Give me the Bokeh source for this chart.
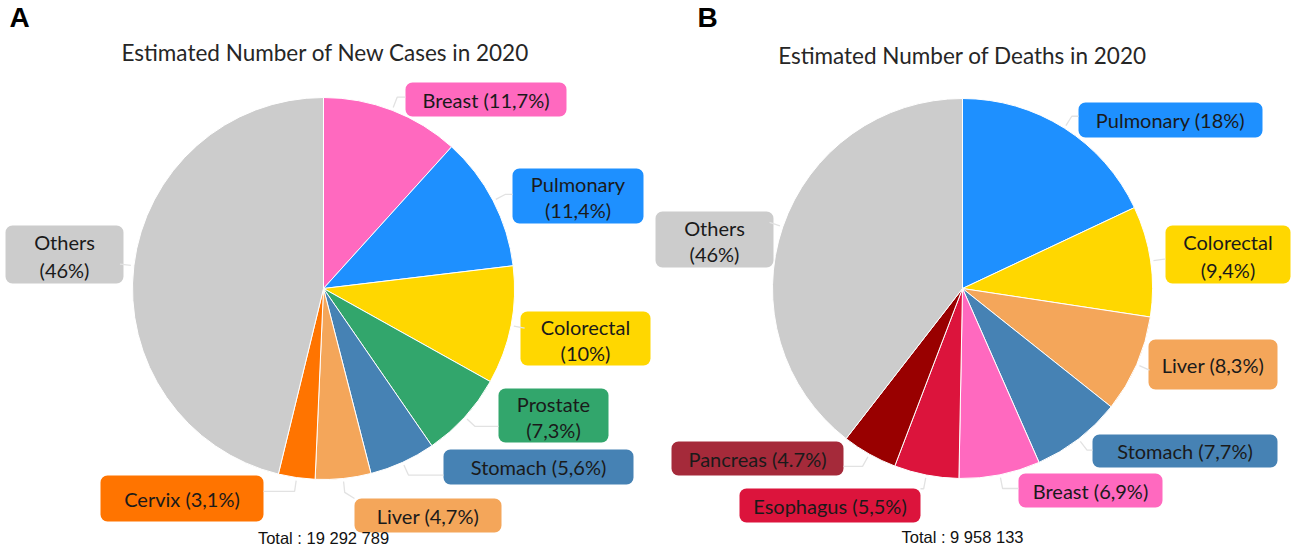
import math
from bokeh.plotting import figure
from bokeh.models import ColumnDataSource, Range1d, BoxAnnotation
from bokeh.core.properties import value
from bokeh.embed import file_html
from bokeh.resources import INLINE

# ---------------- data ----------------
cases_names = ["Breast", "Pulmonary", "Colorectal", "Prostate", "Stomach", "Liver", "Cervix", "Others"]
cases_values = [11.7, 11.4, 10, 7.3, 5.6, 4.7, 3.1, 46]
cases_pct_labels = ["11,7%", "11,4%", "10%", "7,3%", "5,6%", "4,7%", "3,1%", "46%"]
cases_title = "Estimated Number of New Cases in 2020"
cases_total = "Total : 19 292 789"

deaths_names = ["Pulmonary", "Colorectal", "Liver", "Stomach", "Breast", "Esophagus", "Pancreas", "Others"]
deaths_values = [18, 9.4, 8.3, 7.7, 6.9, 5.5, 4.7, 46]
deaths_pct_labels = ["18%", "9,4%", "8,3%", "7,7%", "6,9%", "5,5%", "4.7%", "46%"]
deaths_title = "Estimated Number of Deaths in 2020"
deaths_total = "Total : 9 958 133"

# ---------------- styles ----------------
slice_colors = {
    "Breast": "#ff69bf", "Pulmonary": "#1e90ff", "Colorectal": "#ffd700",
    "Prostate": "#32a66c", "Stomach": "#4682b4", "Liver": "#f4a65a",
    "Cervix": "#ff7400", "Others": "#cccccc", "Esophagus": "#dc143c",
    "Pancreas": "#990000",
}
box_colors = dict(slice_colors)
box_colors["Pancreas"] = "#a52a3a"

H = 554  # image height used to flip y
W_FIG, H_FIG = 1291, 546

LABEL_FONT = "Lato"
LABEL_SIZE = "20px"
TEXT_COLOR = "#1a1a1a"

# label boxes (left, right, top, bottom, two_lines) in picture pixel coords
cases_boxes = [
    (405, 566, 82, 116, False),
    (512, 643, 168, 223, True),
    (520, 650, 311, 365, True),
    (498, 608, 388, 442, True),
    (443, 633, 449, 484, False),
    (354, 501, 498, 532, False),
    (100, 263, 475, 521, False),
    (5, 123, 225, 283, True),
]
deaths_boxes = [
    (1078, 1262, 102, 137, False),
    (1165, 1290, 225, 283, True),
    (1148, 1277, 339, 389, False),
    (1092, 1277, 434, 467, False),
    (1018, 1162, 473, 507, False),
    (739, 920, 488, 522, False),
    (671, 843, 441, 475, False),
    (655, 773, 211, 267, True),
]

p = figure(width=W_FIG, height=H_FIG, output_backend="svg", toolbar_location=None,
           x_range=Range1d(0, W_FIG), y_range=Range1d(H - H_FIG, H),
           min_border=0, outline_line_color=None)
p.axis.visible = False
p.grid.visible = False
p.background_fill_color = "white"
p.border_fill_color = "white"


def fy(y):
    return H - y


def draw_pie(cx, cy, r, names, values, pcts, boxes, title, tx, ty, total, totx, toty):
    # wedges: start at 12 o'clock, clockwise; last slice (Others) closes circle
    starts, ends = [], []
    cum = 0.0
    for i, v in enumerate(values):
        a0 = cum
        if i == len(values) - 1:
            a1 = 100.0
        else:
            a1 = cum + v
        cum = a1
        starts.append(math.radians(90 - a0 * 3.6))
        ends.append(math.radians(90 - a1 * 3.6))
    src = ColumnDataSource(dict(start=starts, end=ends,
                                color=[slice_colors[n] for n in names]))
    p.wedge(x=cx, y=fy(cy), radius=r, start_angle="start", end_angle="end",
            direction="clock", fill_color="color", line_color="white",
            line_width=1, source=src)

    # leader lines + label boxes + text
    lx, ly = [], []
    for i, n in enumerate(names):
        mid = (starts[i] + ends[i]) / 2.0
        l, rgt, t, b, two = boxes[i]
        px0 = cx + (r + 3) * math.cos(mid)
        py0 = cy - (r + 3) * math.sin(mid)
        px1 = cx + (r + 14) * math.cos(mid)
        py1 = cy - (r + 14) * math.sin(mid)
        ax = min(max(px1, l), rgt)
        ay = min(max(py1, t), b)
        lx.append([px0, px1, ax])
        ly.append([fy(py0), fy(py1), fy(ay)])

        box = BoxAnnotation(left=l, right=rgt, top=fy(t), bottom=fy(b),
                            fill_color=box_colors[n], fill_alpha=1.0,
                            line_color=None, border_radius=7, level="underlay")
        p.add_layout(box)
        xc = (l + rgt) / 2.0
        if two:
            hgt = b - t
            txts = [n, "(" + pcts[i] + ")"]
            ys = [fy(t + hgt * 0.29), fy(t + hgt * 0.76)]
        else:
            txts = [n + " (" + pcts[i] + ")"]
            ys = [fy((t + b) / 2.0)]
        p.text(x=[xc] * len(txts), y=ys, text=txts, text_align="center",
               text_baseline="middle", text_font=value(LABEL_FONT),
               text_font_size=value(LABEL_SIZE), text_color=TEXT_COLOR)
    p.multi_line(xs=lx, ys=ly, line_color="#e2e2e2", line_width=1.3)

    p.text(x=[tx], y=[fy(ty)], text=[title], text_align="center", text_baseline="middle",
           text_font=value(LABEL_FONT), text_font_size=value("22.5px"), text_color="#262626")
    p.text(x=[totx], y=[fy(toty)], text=[total], text_align="center", text_baseline="middle",
           text_font=value("Liberation Sans"), text_font_size=value("16.5px"), text_color="#111111")


draw_pie(323, 288, 191, cases_names, cases_values, cases_pct_labels, cases_boxes,
         cases_title, 325, 52, cases_total, 323, 537)
draw_pie(962, 288, 190, deaths_names, deaths_values, deaths_pct_labels, deaths_boxes,
         deaths_title, 962, 55, deaths_total, 962, 536)

p.text(x=[9, 697], y=[fy(17), fy(17)], text=["A", "B"], text_align="left",
       text_baseline="middle", text_font=value("Liberation Sans"),
       text_font_size=value("28px"), text_font_style="bold", text_color="black")

open("out.html", "w").write(file_html(p, INLINE))
